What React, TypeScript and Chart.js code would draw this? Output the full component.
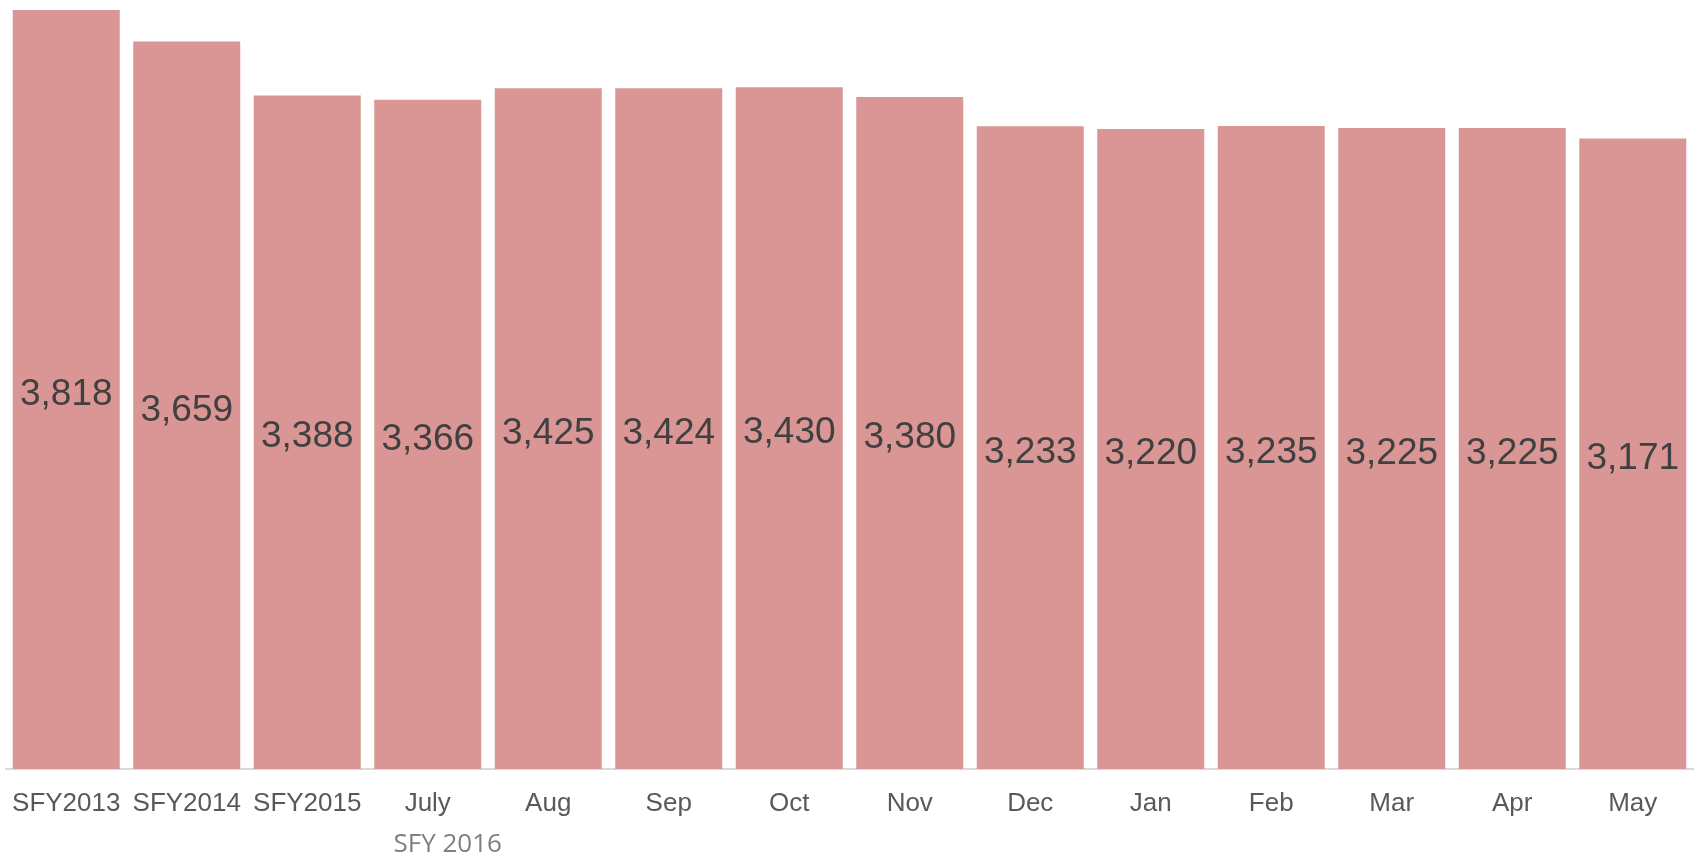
import React, { useEffect, useRef } from "react";
import { Chart, registerables } from "chart.js";

Chart.register(...registerables);

const categories = ["SFY2013", "SFY2014", "SFY2015", "July", "Aug", "Sep", "Oct", "Nov", "Dec", "Jan", "Feb", "Mar", "Apr", "May"];
const values = [3818, 3659, 3388, 3366, 3425, 3424, 3430, 3380, 3233, 3220, 3235, 3225, 3225, 3171];
const groupLabel = "SFY 2016";
const groupLabelIndex = 3;

const FONT = "'Liberation Sans', Arial, sans-serif";

export default function App() {
  const ref = useRef<HTMLCanvasElement | null>(null);

  useEffect(() => {
    document.body.style.margin = "0";
    const canvas = ref.current;
    if (!canvas) return;

    const labelsPlugin = {
      id: "barLabels",
      afterDatasetsDraw(chart: any) {
        const ctx = chart.ctx;
        const meta = chart.getDatasetMeta(0);
        ctx.save();
        ctx.font = `37px ${FONT}`;
        ctx.fillStyle = "#404040";
        ctx.textAlign = "center";
        ctx.textBaseline = "middle";
        meta.data.forEach((bar: any, i: number) => {
          const y = (bar.y + bar.base) / 2 + 5;
          ctx.fillText(values[i].toLocaleString("en-US"), bar.x, y);
        });
        const xs = chart.scales.x;
        const gx = xs.getPixelForValue(groupLabelIndex) + 20;
        ctx.font = `26px 'Open Sans', sans-serif`;
        ctx.fillStyle = "#7f7f7f";
        ctx.fillText(groupLabel, gx, xs.top + 76);
        ctx.restore();
      },
    };

    const chart = new Chart(canvas, {
      type: "bar",
      data: {
        labels: categories,
        datasets: [
          {
            data: values,
            backgroundColor: "#D99694",
            borderWidth: 0,
            categoryPercentage: 1,
            barPercentage: 0.888,
          },
        ],
      },
      options: {
        responsive: false,
        animation: false,
        maintainAspectRatio: false,
        layout: { padding: { left: 6, right: 4, top: 10, bottom: 0 } },
        plugins: {
          legend: { display: false },
          tooltip: { enabled: false },
          title: { display: false },
        },
        scales: {
          x: {
            grid: { display: true, drawOnChartArea: false, drawTicks: false, color: "rgba(0,0,0,0)" },
            border: { display: true, color: "#d9d9d9", width: 2 },
            ticks: {
              color: "#595959",
              font: { family: FONT, size: 26 },
              padding: 19,
              maxRotation: 0,
              autoSkip: false,
            },
            afterFit(scale: any) {
              scale.height = 90;
              scale.paddingLeft = 0;
              scale.paddingRight = 0;
            },
          },
          y: {
            display: false,
            min: 0,
            max: Math.max(...values),
          },
        },
      },
      plugins: [labelsPlugin],
    });

    return () => chart.destroy();
  }, []);

  return (
    <div style={{ width: 1697, height: 859 }}>
      <canvas ref={ref} width={1697} height={859} style={{ display: "block" }} />
    </div>
  );
}
